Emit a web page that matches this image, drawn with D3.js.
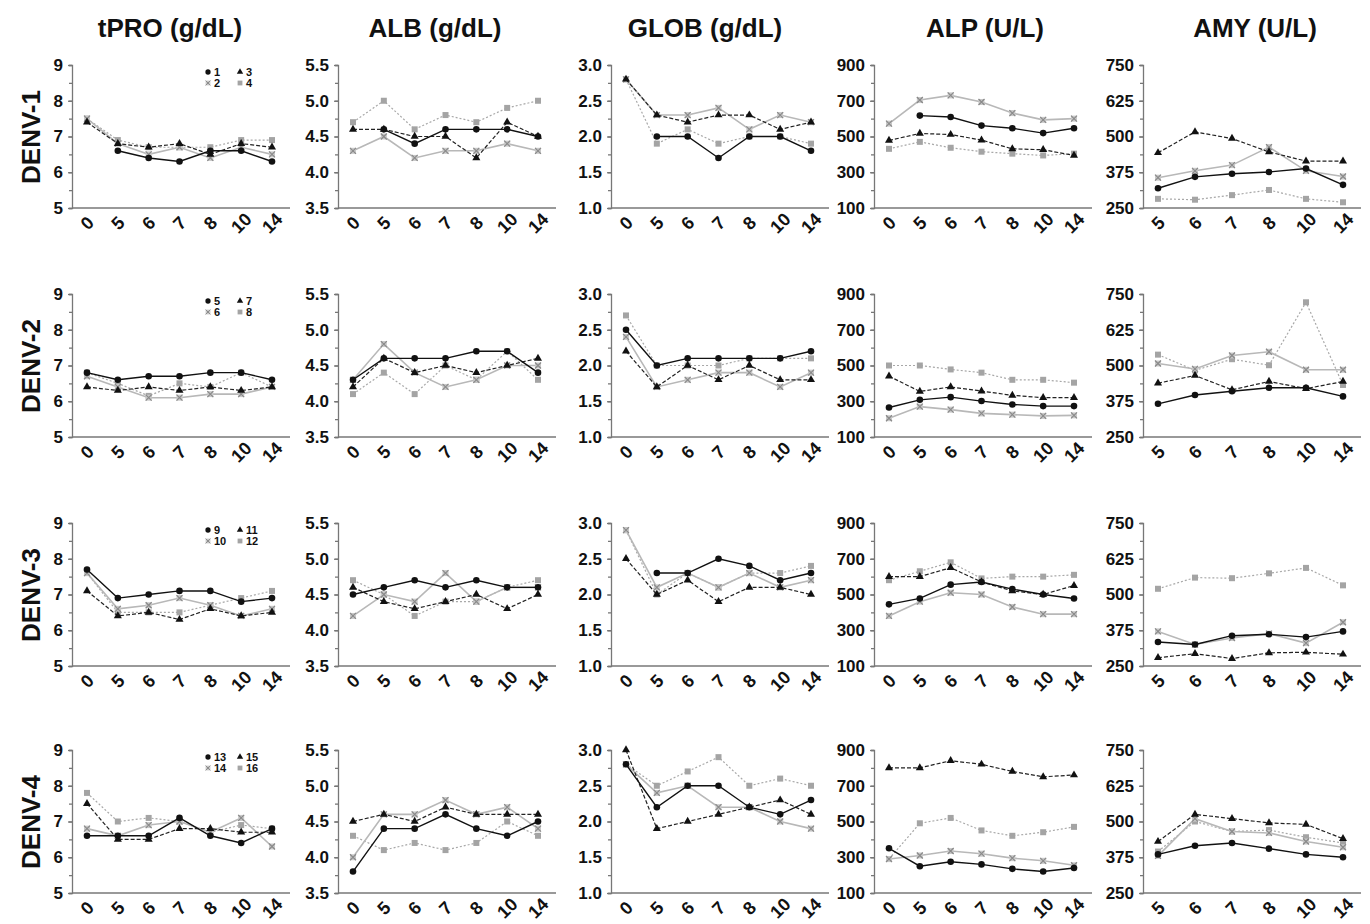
<!DOCTYPE html>
<html>
<head>
<meta charset="utf-8">
<script src="https://cdn.jsdelivr.net/npm/d3@7"></script>
<style>
  body { margin: 0; background: #fff; }
  text { font-family: "Liberation Sans", Arial, sans-serif; font-weight: bold; fill: #111; }
</style>
</head>
<body>
<svg id="chart" width="1370" height="924"></svg>
<script>
// days on the x axis
const days = ["0", "5", "6", "7", "8", "10", "14"];
const daysAMY = ["5", "6", "7", "8", "10", "14"];

const rowNames = ["DENV-1", "DENV-2", "DENV-3", "DENV-4"];
const colNames = ["tPRO (g/dL)", "ALB (g/dL)", "GLOB (g/dL)", "ALP (U/L)", "AMY (U/L)"];
const patients = [[1, 2, 3, 4], [5, 6, 7, 8], [9, 10, 11, 12], [13, 14, 15, 16]];

// y tick labels per column
const ticksTPRO = [5, 6, 7, 8, 9];
const ticksALB = [3.5, 4.0, 4.5, 5.0, 5.5];
const ticksGLOB = [1.0, 1.5, 2.0, 2.5, 3.0];
const ticksALP = [100, 300, 500, 700, 900];
const ticksAMY = [250, 375, 500, 625, 750];

// each: [patient a (dot), patient b (x), patient c (triangle), patient d (square)]
const tPRO_D1 = [[null, 6.6, 6.4, 6.3, 6.6, 6.6, 6.3], [7.5, 6.8, 6.5, 6.7, 6.4, 6.7, 6.5], [7.4, 6.8, 6.7, 6.8, 6.5, 6.8, 6.7], [7.5, 6.9, 6.7, 6.7, 6.7, 6.9, 6.9]];
const ALB_D1 = [[null, 4.6, 4.4, 4.6, 4.6, 4.6, 4.5], [4.3, 4.5, 4.2, 4.3, 4.3, 4.4, 4.3], [4.6, 4.6, 4.5, 4.5, 4.2, 4.7, 4.5], [4.7, 5.0, 4.6, 4.8, 4.7, 4.9, 5.0]];
const GLOB_D1 = [[null, 2.0, 2.0, 1.7, 2.0, 2.0, 1.8], [2.8, 2.3, 2.3, 2.4, 2.1, 2.3, 2.2], [2.8, 2.3, 2.2, 2.3, 2.3, 2.1, 2.2], [2.8, 1.9, 2.1, 1.9, 2.0, 2.0, 1.9]];
const ALP_D1 = [[null, 617, 609, 561, 546, 519, 546], [572, 704, 730, 693, 631, 593, 600], [478, 517, 511, 480, 431, 426, 394], [431, 470, 437, 415, 404, 394, 404]];
const AMY_D1 = [[319, 359, 370, 376, 388, 331], [356, 380, 400, 463, 380, 360], [443, 516, 493, 446, 414, 414], [282, 279, 295, 313, 282, 270]];

const tPRO_D2 = [[6.8, 6.6, 6.7, 6.7, 6.8, 6.8, 6.6], [6.7, 6.4, 6.1, 6.1, 6.2, 6.2, 6.4], [6.4, 6.3, 6.4, 6.3, 6.4, 6.3, 6.4], [6.8, 6.5, 6.15, 6.5, 6.4, 6.8, 6.4]];
const ALB_D2 = [[4.3, 4.6, 4.6, 4.6, 4.7, 4.7, 4.4], [4.3, 4.8, 4.4, 4.2, 4.3, 4.5, 4.5], [4.2, 4.6, 4.4, 4.5, 4.4, 4.5, 4.6], [4.1, 4.4, 4.1, 4.5, 4.3, 4.7, 4.3]];
const GLOB_D2 = [[2.5, 2.0, 2.1, 2.1, 2.1, 2.1, 2.2], [2.4, 1.7, 1.8, 1.9, 1.9, 1.7, 1.9], [2.2, 1.7, 2.0, 1.8, 2.0, 1.8, 1.8], [2.7, 2.0, 2.0, 2.0, 2.1, 2.1, 2.1]];
const ALP_D2 = [[265, 308, 323, 301, 282, 273, 273], [205, 270, 253, 232, 225, 218, 221], [440, 355, 380, 357, 333, 320, 320], [500, 500, 478, 460, 420, 420, 404]];
const AMY_D2 = [[366, 397, 410, 422, 422, 392], [507, 488, 535, 548, 485, 485], [438, 465, 415, 444, 419, 444], [538, 483, 522, 501, 721, 432]];

const tPRO_D3 = [[7.7, 6.9, 7.0, 7.1, 7.1, 6.8, 6.9], [7.6, 6.6, 6.7, 6.9, 6.7, 6.4, 6.6], [7.1, 6.4, 6.5, 6.3, 6.6, 6.4, 6.5], [7.6, 6.5, 6.5, 6.5, 6.7, 6.9, 7.1]];
const ALB_D3 = [[4.5, 4.6, 4.7, 4.6, 4.7, 4.6, 4.6], [4.2, 4.5, 4.4, 4.8, 4.4, 4.6, 4.6], [4.6, 4.4, 4.3, 4.4, 4.5, 4.3, 4.5], [4.7, 4.5, 4.2, 4.4, 4.4, 4.6, 4.7]];
const GLOB_D3 = [[null, 2.3, 2.3, 2.5, 2.4, 2.2, 2.3], [2.9, 2.1, 2.3, 2.1, 2.3, 2.1, 2.2], [2.5, 2.0, 2.2, 1.9, 2.1, 2.1, 2.0], [2.9, 2.0, 2.3, 2.1, 2.3, 2.3, 2.4]];
const ALP_D3 = [[445, 478, 555, 570, 530, 500, 478], [380, 460, 510, 500, 430, 390, 390], [600, 600, 650, 570, 520, 500, 550], [580, 630, 680, 590, 600, 600, 610]];
const AMY_D3 = [[334, 325, 356, 361, 351, 371], [371, 325, 348, 363, 330, 403], [279, 293, 276, 296, 298, 291], [520, 559, 557, 574, 593, 532]];

const tPRO_D4 = [[6.6, 6.6, 6.6, 7.1, 6.6, 6.4, 6.8], [6.8, 6.6, 6.9, 7.0, 6.7, 7.1, 6.3], [7.5, 6.5, 6.5, 6.8, 6.8, 6.7, 6.7], [7.8, 7.0, 7.1, 7.0, 6.7, 6.9, 6.8]];
const ALB_D4 = [[3.8, 4.4, 4.4, 4.6, 4.4, 4.3, 4.5], [4.0, 4.6, 4.6, 4.8, 4.6, 4.7, 4.4], [4.5, 4.6, 4.5, 4.7, 4.6, 4.6, 4.6], [4.3, 4.1, 4.2, 4.1, 4.2, 4.5, 4.3]];
const GLOB_D4 = [[2.8, 2.2, 2.5, 2.5, 2.2, 2.1, 2.3], [2.8, 2.4, 2.5, 2.2, 2.2, 2.0, 1.9], [3.0, 1.9, 2.0, 2.1, 2.2, 2.3, 2.1], [2.8, 2.5, 2.7, 2.9, 2.5, 2.6, 2.5]];
const ALP_D4 = [[350, 250, 275, 260, 235, 220, 240], [290, 310, 335, 320, 295, 280, 255], [800, 800, 840, 820, 780, 750, 760], [290, 490, 520, 450, 420, 440, 470]];
const AMY_D4 = [[385, 415, 425, 405, 385, 375], [380, 510, 465, 460, 430, 410], [430, 525, 510, 495, 490, 440], [395, 500, 465, 470, 445, 425]];

const grid = [
  [tPRO_D1, ALB_D1, GLOB_D1, ALP_D1, AMY_D1],
  [tPRO_D2, ALB_D2, GLOB_D2, ALP_D2, AMY_D2],
  [tPRO_D3, ALB_D3, GLOB_D3, ALP_D3, AMY_D3],
  [tPRO_D4, ALB_D4, GLOB_D4, ALP_D4, AMY_D4]
];

const colTicks = [ticksTPRO, ticksALB, ticksGLOB, ticksALP, ticksAMY];
const colFmt = [d3.format("d"), d3.format(".1f"), d3.format(".1f"), d3.format("d"), d3.format("d")];

const svg = d3.select("#chart");

const axisX = [72, 338, 611, 874, 1143];
const panelTop = [65, 294, 523, 750];
const pw = 218, ph = 143;

const headerX = [170, 435, 705, 985, 1255];
colNames.forEach((c, i) => {
  svg.append("text").attr("x", headerX[i]).attr("y", 37)
    .attr("text-anchor", "middle").attr("font-size", 26).text(c);
});
rowNames.forEach((r, i) => {
  svg.append("text")
    .attr("transform", `translate(40,${panelTop[i] + 72}) rotate(-90)`)
    .attr("text-anchor", "middle").attr("font-size", 26).text(r);
});

const styles = [
  { stroke: "#111", dash: null, width: 1.4 },
  { stroke: "#b8b8b8", dash: null, width: 1.6 },
  { stroke: "#222", dash: "4,2", width: 1.2 },
  { stroke: "#a8a8a8", dash: "2,2", width: 1.2 }
];

function marker(g, k) {
  if (k === 0) {
    g.append("circle").attr("r", 3.3).attr("fill", "#111");
  } else if (k === 1) {
    g.append("rect").attr("x", -3).attr("y", -3).attr("width", 6).attr("height", 6).attr("fill", "#c8c8c8");
    g.append("path").attr("d", "M-3,-3L3,3M3,-3L-3,3").attr("stroke", "#8a8a8a").attr("stroke-width", 1.2);
  } else if (k === 2) {
    g.append("path").attr("d", d3.symbol(d3.symbolTriangle, 28)()).attr("fill", "#111");
  } else {
    g.append("rect").attr("x", -3).attr("y", -3).attr("width", 6).attr("height", 6).attr("fill", "#a4a4a4");
  }
}

grid.forEach((row, ri) => {
  row.forEach((series, ci) => {
    const cats = ci === 4 ? daysAMY : days;
    const ticks = colTicks[ci];
    const g = svg.append("g").attr("transform", `translate(${axisX[ci]},${panelTop[ri]})`);

    const x = d3.scalePoint().domain(cats).range([15, 200]);
    const y = d3.scaleLinear().domain([ticks[0], ticks[ticks.length - 1]]).range([ph, 0]);

    // minor ticks
    const step = ticks[1] - ticks[0];
    const minor = d3.range(ticks[0], ticks[ticks.length - 1] + step / 4, step / 2);
    g.append("g").call(d3.axisLeft(y).tickValues(minor).tickSize(3).tickFormat(""))
      .call(s => s.selectAll("path,line").attr("stroke", "#777").attr("stroke-width", 1.3));
    g.append("g").call(d3.axisLeft(y).tickValues(ticks).tickSize(4).tickPadding(5).tickFormat(colFmt[ci]))
      .call(s => s.select(".domain").remove())
      .call(s => s.selectAll("line").attr("stroke", "#777").attr("stroke-width", 1.3))
      .call(s => s.selectAll("text").attr("font-size", 17).attr("font-family", "Liberation Sans, Arial").attr("font-weight", "bold").attr("fill", "#111"));

    const xa = g.append("g").attr("transform", `translate(0,${ph})`)
      .call(d3.axisBottom(x).tickSize(0).tickSizeOuter(0).tickFormat(""));
    xa.select(".domain").attr("d", `M0,0H${pw}`).attr("stroke", "#777").attr("stroke-width", 1.3);
    cats.forEach(c => {
      g.append("text")
        .attr("transform", `translate(${x(c)},${ph + 15}) rotate(-45)`)
        .attr("text-anchor", "middle").attr("dy", "0.35em")
        .attr("font-size", 18).text(c);
    });

    const line = d3.line().defined(d => d[1] != null).x(d => x(d[0])).y(d => y(d[1]));
    // draw gray series first, black on top
    [3, 1, 2, 0].forEach(k => {
      const pts = cats.map((c, i) => [c, series[k][i]]);
      const st = styles[k];
      g.append("path").datum(pts).attr("d", line).attr("fill", "none")
        .attr("stroke", st.stroke).attr("stroke-width", st.width)
        .attr("stroke-dasharray", st.dash);
      pts.filter(p => p[1] != null).forEach(p => {
        marker(g.append("g").attr("transform", `translate(${x(p[0])},${y(p[1])})`), k);
      });
    });

    // legend in first column
    if (ci === 0) {
      const ids = patients[ri];
      const lg = g.append("g").attr("transform", "translate(136,7)");
      const pos = [[0, 0], [0, 11], [32, 0], [32, 11]];
      ids.forEach((id, k) => {
        const it = lg.append("g").attr("transform", `translate(${pos[k][0]},${pos[k][1]})`);
        const m = it.append("g").attr("transform", "scale(0.8)");
        marker(m, k);
        it.append("text").attr("x", 6).attr("dy", "0.35em").attr("font-size", 11)
          .attr("fill", k === 1 || k === 3 ? "#444" : "#111").text(id);
      });
    }
  });
});
</script>
</body>
</html>
